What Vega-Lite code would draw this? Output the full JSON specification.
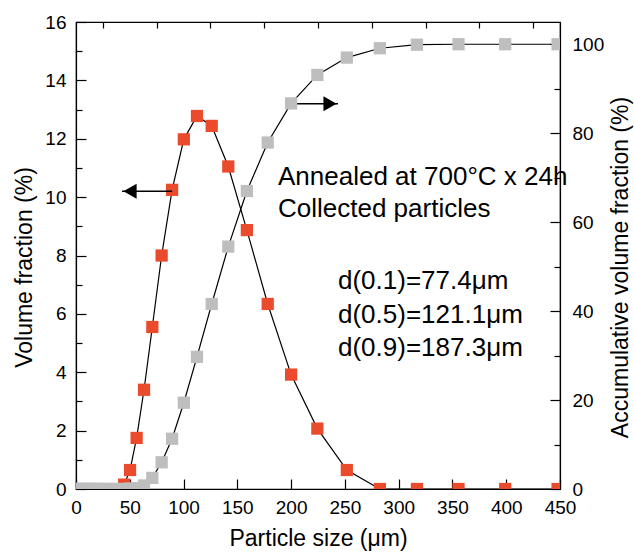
{
  "$schema": "https://vega.github.io/schema/vega-lite/v6.json",
  "width": 484,
  "height": 467,
  "autosize": {"type": "none"},
  "padding": {"left": 76, "top": 22, "right": 74, "bottom": 63},
  "background": "white",
  "config": {
    "view": {"stroke": "black", "strokeWidth": 1.2},
    "axis": {
      "labelFont": "Liberation Sans", "titleFont": "Liberation Sans",
      "labelFontSize": 19, "titleFontSize": 23, "titleFontWeight": "normal",
      "labelColor": "black", "titleColor": "black",
      "domainColor": "black", "tickColor": "black",
      "domainWidth": 1.2, "tickWidth": 1.2, "grid": false,
      "labelFlush": false, "labelOverlap": false
    }
  },
  "datasets": {
    "red": [
      {"size": 44.77, "vf": 0.15}, {"size": 50.24, "vf": 0.65}, {"size": 56.37, "vf": 1.75},
      {"size": 63.25, "vf": 3.4}, {"size": 70.96, "vf": 5.55}, {"size": 79.62, "vf": 8.0},
      {"size": 89.34, "vf": 10.25}, {"size": 100.24, "vf": 11.98}, {"size": 112.47, "vf": 12.78},
      {"size": 126.19, "vf": 12.44}, {"size": 141.59, "vf": 11.05}, {"size": 158.87, "vf": 8.87},
      {"size": 178.25, "vf": 6.34}, {"size": 200.0, "vf": 3.92}, {"size": 224.4, "vf": 2.07},
      {"size": 251.79, "vf": 0.65}, {"size": 282.51, "vf": 0}, {"size": 316.98, "vf": 0},
      {"size": 355.66, "vf": 0}, {"size": 399.05, "vf": 0}, {"size": 447.74, "vf": 0}
    ],
    "gray": [
      {"size": 0.5, "cum": 0}, {"size": 1.0, "cum": 0}, {"size": 2.0, "cum": 0},
      {"size": 3.99, "cum": 0}, {"size": 6.33, "cum": 0}, {"size": 7.96, "cum": 0},
      {"size": 10.02, "cum": 0}, {"size": 11.25, "cum": 0}, {"size": 12.62, "cum": 0},
      {"size": 14.16, "cum": 0}, {"size": 15.89, "cum": 0}, {"size": 17.83, "cum": 0},
      {"size": 20.0, "cum": 0}, {"size": 22.44, "cum": 0}, {"size": 25.18, "cum": 0},
      {"size": 28.25, "cum": 0}, {"size": 31.7, "cum": 0}, {"size": 35.57, "cum": 0},
      {"size": 39.91, "cum": 0}, {"size": 44.77, "cum": 0}, {"size": 50.24, "cum": 0.1},
      {"size": 56.37, "cum": 0.2}, {"size": 63.25, "cum": 0.8}, {"size": 70.96, "cum": 2.5},
      {"size": 79.62, "cum": 6.0}, {"size": 89.34, "cum": 11.3}, {"size": 100.24, "cum": 19.4},
      {"size": 112.47, "cum": 29.7}, {"size": 126.19, "cum": 41.6}, {"size": 141.59, "cum": 54.5},
      {"size": 158.87, "cum": 67.0}, {"size": 178.25, "cum": 77.9}, {"size": 200.0, "cum": 86.7},
      {"size": 224.4, "cum": 93.1}, {"size": 251.79, "cum": 97.0}, {"size": 282.51, "cum": 99.1},
      {"size": 316.98, "cum": 99.9}, {"size": 355.66, "cum": 100}, {"size": 399.05, "cum": 100},
      {"size": 447.74, "cum": 100}
    ],
    "arrows": [
      {"dir": "left", "from": 89.34, "to": 42.8, "y": 10.2},
      {"dir": "right", "from": 200.0, "to": 243.6, "y": 13.2}
    ],
    "notes": [
      {"x": 187.8, "y": 10.69, "label": "Annealed at 700°C x 24h"},
      {"x": 187.8, "y": 9.61, "label": "Collected particles"},
      {"x": 243.6, "y": 7.13, "label": "d(0.1)=77.4μm"},
      {"x": 243.6, "y": 5.96, "label": "d(0.5)=121.1μm"},
      {"x": 243.6, "y": 4.83, "label": "d(0.9)=187.3μm"}
    ]
  },
  "layer": [
    {
      "layer": [
        {
          "data": {"name": "red"},
          "mark": {"type": "line", "color": "black", "strokeWidth": 1.2, "clip": true},
          "encoding": {
            "x": {"field": "size", "type": "quantitative", "scale": {"domain": [0, 450], "nice": false},
              "axis": {"values": [0, 50, 100, 150, 200, 250, 300, 350, 400, 450], "tickSize": -10,
                "labelPadding": 19, "title": "Particle size (μm)", "titlePadding": 10}},
            "y": {"field": "vf", "type": "quantitative", "scale": {"domain": [0, 16], "nice": false},
              "axis": {"orient": "left", "values": [0, 2, 4, 6, 8, 10, 12, 14, 16], "tickSize": -10,
                "labelPadding": 20, "title": "Volume fraction (%)", "titlePadding": 8, "titleY": 245}}
          }
        },
        {
          "data": {"name": "red"},
          "mark": {"type": "square", "size": 150, "color": "#EA4B2C", "opacity": 1, "clip": true},
          "encoding": {
            "x": {"field": "size", "type": "quantitative"},
            "y": {"field": "vf", "type": "quantitative"}
          }
        },
        {
          "data": {"name": "arrows"},
          "mark": {"type": "rule", "color": "black", "strokeWidth": 1.5},
          "encoding": {
            "x": {"field": "from", "type": "quantitative"},
            "x2": {"field": "to"},
            "y": {"field": "y", "type": "quantitative"}
          }
        },
        {
          "data": {"name": "arrows"},
          "transform": [{"filter": "datum.dir == 'left'"}],
          "mark": {"type": "point", "shape": "triangle-left", "size": 230, "filled": true, "color": "black", "opacity": 1, "xOffset": 8},
          "encoding": {
            "x": {"field": "to", "type": "quantitative"},
            "y": {"field": "y", "type": "quantitative"}
          }
        },
        {
          "data": {"name": "arrows"},
          "transform": [{"filter": "datum.dir == 'right'"}],
          "mark": {"type": "point", "shape": "triangle-right", "size": 230, "filled": true, "color": "black", "opacity": 1, "xOffset": -8},
          "encoding": {
            "x": {"field": "to", "type": "quantitative"},
            "y": {"field": "y", "type": "quantitative"}
          }
        },
        {
          "data": {"name": "notes"},
          "mark": {"type": "text", "align": "left", "baseline": "middle", "font": "Liberation Sans", "fontSize": 26, "color": "black"},
          "encoding": {
            "x": {"field": "x", "type": "quantitative"},
            "y": {"field": "y", "type": "quantitative"},
            "text": {"field": "label"}
          }
        }
      ]
    },
    {
      "data": {"name": "gray"},
      "layer": [
        {
          "mark": {"type": "line", "color": "black", "strokeWidth": 1.2, "clip": true},
          "encoding": {
            "x": {"field": "size", "type": "quantitative", "scale": {"domain": [0, 450], "nice": false},
              "axis": {"values": [25, 75, 125, 175, 225, 275, 325, 375, 425], "tickSize": -6,
                "labels": false, "domain": false, "title": null}},
            "y": {"field": "cum", "type": "quantitative", "scale": {"domain": [0, 105], "nice": false},
              "axis": {"orient": "right", "values": [0, 20, 40, 60, 80, 100], "tickSize": -10,
                "labelPadding": 22, "title": "Accumulative volume fraction (%)", "titleAngle": 270, "titlePadding": 29, "titleY": 245}}
          }
        },
        {
          "mark": {"type": "square", "size": 150, "color": "#BEBEBE", "opacity": 1, "clip": true},
          "encoding": {
            "x": {"field": "size", "type": "quantitative"},
            "y": {"field": "cum", "type": "quantitative"}
          }
        }
      ]
    },
    {
      "data": {"name": "red"},
      "mark": {"type": "point", "opacity": 0},
      "encoding": {
        "x": {"field": "size", "type": "quantitative", "axis": null},
        "y": {"field": "vf", "type": "quantitative", "scale": {"domain": [0, 16], "nice": false},
          "axis": {"orient": "left", "values": [1, 3, 5, 7, 9, 11, 13, 15], "tickSize": -6,
            "labels": false, "domain": false, "title": null}}
      }
    },
    {
      "data": {"name": "gray"},
      "mark": {"type": "point", "opacity": 0},
      "encoding": {
        "x": {"field": "size", "type": "quantitative", "axis": null},
        "y": {"field": "cum", "type": "quantitative", "scale": {"domain": [0, 105], "nice": false},
          "axis": {"orient": "right", "values": [10, 30, 50, 70, 90], "tickSize": -6,
            "labels": false, "domain": false, "title": null}}
      }
    }
  ],
  "resolve": {"scale": {"y": "independent"}, "axis": {"x": "independent", "y": "independent"}}
}
